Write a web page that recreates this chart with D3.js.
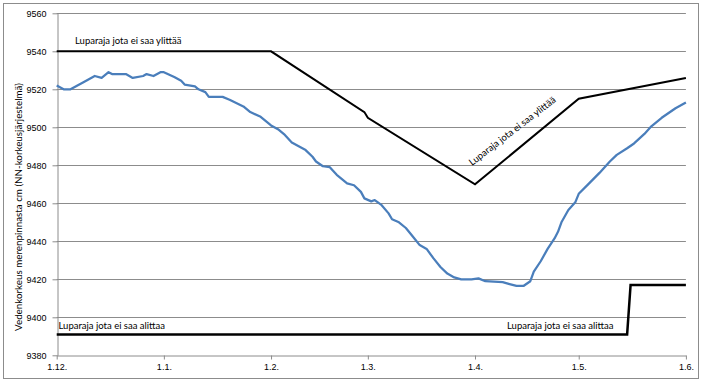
<!DOCTYPE html>
<html>
<head>
<meta charset="utf-8">
<script src="https://cdn.jsdelivr.net/npm/d3@7"></script>
<style>
  body { margin: 0; background: #fff; }
  svg { font-family: Lato, "Open Sans", sans-serif; }
  .grid line { stroke: #8c8c8c; stroke-width: 1; }
  .axis path, .axis line { stroke: #8c8c8c; }
  .axis text { fill: #000; font-size: 9px; }
</style>
</head>
<body>
<svg id="chart" width="702" height="383"></svg>
<script>
// water level, measured (cm, NN height system)
var levelDates = ["2010-12-01","2010-12-03","2010-12-05","2010-12-07","2010-12-09","2010-12-12","2010-12-14","2010-12-16","2010-12-17","2010-12-21","2010-12-23","2010-12-26","2010-12-27","2010-12-29","2010-12-31",
  "2011-01-01","2011-01-04","2011-01-06","2011-01-07","2011-01-10","2011-01-11","2011-01-13","2011-01-14","2011-01-18","2011-01-20","2011-01-24","2011-01-26","2011-01-29",
  "2011-02-01","2011-02-03","2011-02-05","2011-02-07","2011-02-11","2011-02-13","2011-02-14","2011-02-16","2011-02-18","2011-02-20","2011-02-23","2011-02-25","2011-02-27","2011-02-28",
  "2011-03-02","2011-03-03","2011-03-05","2011-03-07","2011-03-08","2011-03-10","2011-03-12","2011-03-14","2011-03-16","2011-03-18","2011-03-20","2011-03-22","2011-03-24","2011-03-26","2011-03-28","2011-03-31",
  "2011-04-02","2011-04-04","2011-04-09","2011-04-11","2011-04-13","2011-04-15","2011-04-17","2011-04-18","2011-04-20","2011-04-22","2011-04-24","2011-04-25","2011-04-26","2011-04-28","2011-04-30",
  "2011-05-01","2011-05-04","2011-05-07","2011-05-10","2011-05-12","2011-05-15","2011-05-17","2011-05-20","2011-05-22","2011-05-25","2011-05-27","2011-05-29","2011-06-01"];
var levelValues = [9522,9520,9520,9522,9524,9527,9526,9529,9528,9528,9526,9527,9528,9527,9529,
  9529,9526.5,9524.5,9522.5,9521.5,9520,9518.5,9516,9516,9514.5,9511,9508,9505.5,
  9501,9499,9496,9492,9488,9484.5,9482,9479.5,9479,9475,9470.5,9469.5,9466,9462.6,
  9461,9461.7,9459,9454.7,9451.6,9450,9447,9442.5,9438,9436,9431,9426.5,9423,9421,9420,9420,
  9420.5,9419,9418.5,9417.5,9416.5,9416.5,9419,9424,9429.5,9436,9441.5,9445,9450,9456.5,9460.5,
  9465,9470.5,9476,9482,9485.5,9489,9491.5,9496.5,9500.5,9505,9507.5,9510,9513];

// permit limits
var upperDates = ["2010-12-01","2011-02-01","2011-02-28","2011-03-01","2011-04-01","2011-05-01","2011-06-01"];
var upperValues = [9540,9540,9508,9505,9470,9515,9526];
var lowerDates = ["2010-12-01","2011-05-15","2011-05-16","2011-06-01"];
var lowerValues = [9391,9391,9417,9417];

var xTickDates = ["2010-12-01","2011-01-01","2011-02-01","2011-03-01","2011-04-01","2011-05-01","2011-06-01"];
var xTickLabels = ["1.12.","1.1.","1.2.","1.3.","1.4.","1.5.","1.6."];
var yTicks = [9380,9400,9420,9440,9460,9480,9500,9520,9540,9560];

var upperLabel = "Luparaja jota ei saa ylittää";
var lowerLabel = "Luparaja jota ei saa alittaa";
var yTitle = "Vedenkorkeus merenpinnasta cm (NN-korkeusjärjestelmä)";

(function () {
  'use strict';

  var parse = d3.utcParse("%Y-%m-%d");
  function zip(ds, vs) { return ds.map(function (d, i) { return {date: parse(d), v: vs[i]}; }); }
  var level = zip(levelDates, levelValues);
  var upper = zip(upperDates, upperValues);
  var lower = zip(lowerDates, lowerValues);
  var ticks = xTickDates.map(parse);

  var plotLeft = 56.7, plotRight = 685.9, plotTop = 13.3, plotBottom = 355.3;
  var svg = d3.select('#chart');

  svg.append('rect')
    .attr('x', 3.5).attr('y', 3.5).attr('width', 695).attr('height', 375)
    .attr('fill', 'none').attr('stroke', '#8c8c8c');

  var x = d3.scaleUtc().domain([ticks[0], ticks[ticks.length - 1]]).range([plotLeft, plotRight]);
  var y = d3.scaleLinear().domain([9380, 9560]).range([plotBottom, plotTop]);

  // gridlines
  svg.append('g').attr('class', 'grid')
    .selectAll('line').data(yTicks.slice(1)).enter().append('line')
    .attr('x1', plotLeft).attr('x2', plotRight)
    .attr('y1', function (d) { return Math.round(y(d)) + 0.5; })
    .attr('y2', function (d) { return Math.round(y(d)) + 0.5; });

  svg.append('g').attr('class', 'axis')
    .attr('transform', 'translate(0,' + (Math.round(plotBottom) + 0.5) + ')')
    .call(d3.axisBottom(x).tickValues(ticks).tickSize(4).tickPadding(4).tickSizeOuter(0)
      .tickFormat(function (d, i) { return xTickLabels[i]; }));

  svg.append('g').attr('class', 'axis')
    .attr('transform', 'translate(' + (Math.round(plotLeft) + 0.5) + ',0)')
    .call(d3.axisLeft(y).tickValues(yTicks).tickSize(5).tickPadding(6).tickSizeOuter(0)
      .tickFormat(d3.format('d')));

  var line = d3.line().x(function (d) { return x(d.date); }).y(function (d) { return y(d.v); });

  svg.append('path').datum(level).attr('d', line)
    .attr('fill', 'none').attr('stroke', '#4a7ebb').attr('stroke-width', 2.25)
    .attr('stroke-linejoin', 'round');
  svg.append('path').datum(upper).attr('d', line)
    .attr('fill', 'none').attr('stroke', '#000').attr('stroke-width', 2);
  svg.append('path').datum(lower).attr('d', line)
    .attr('fill', 'none').attr('stroke', '#000').attr('stroke-width', 2.5);

  // labels
  function label(tx, ty, txt, rot) {
    var t = svg.append('text')
      .attr('x', tx).attr('y', ty)
      .style('font-size', '9.5px').text(txt);
    if (rot) t.attr('transform', 'rotate(' + rot + ',' + tx + ',' + ty + ')');
    return t;
  }
  label(75, 44, upperLabel);
  label(58.5, 328.5, lowerLabel);
  label(507, 329, lowerLabel);
  var p1 = upper[4], p2 = upper[5];
  var ang = Math.atan2(y(p2.v) - y(p1.v), x(p2.date) - x(p1.date)) * 180 / Math.PI;
  label(472, 166, upperLabel, ang + 2);

  svg.append('text')
    .attr('transform', 'translate(22,207) rotate(-90)')
    .style('text-anchor', 'middle').style('font-size', '9.8px')
    .text(yTitle);
})();
</script>
</body>
</html>
